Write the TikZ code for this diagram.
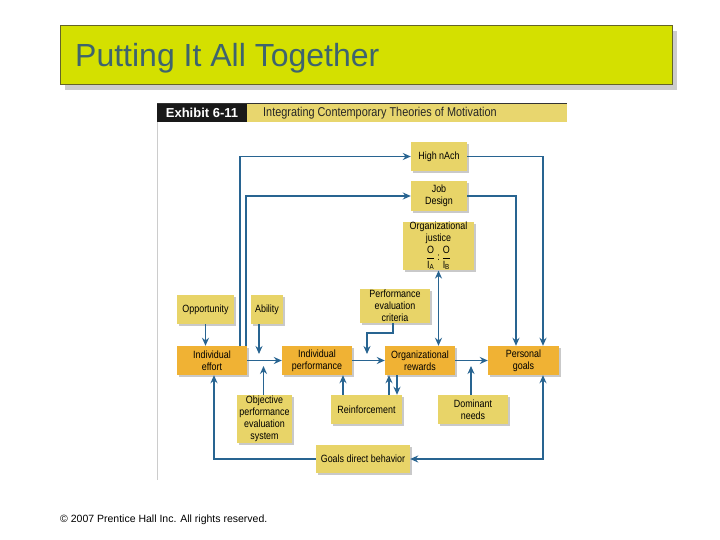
\documentclass[tikz,border=0pt]{standalone}
\usepackage{fontspec}
\usepackage{amsmath}
\setmainfont{Liberation Sans}
\newfontfamily\nodefont[FakeStretch=0.85]{Liberation Sans}
\usetikzlibrary{calc,shadows,arrows.meta}
\definecolor{titlegreen}{RGB}{212,224,0}
\definecolor{titleborder}{RGB}{100,100,40}
\definecolor{titletext}{RGB}{62,100,110}
\definecolor{bandyellow}{RGB}{232,214,110}
\definecolor{boxY}{RGB}{232,212,104}
\definecolor{boxO}{RGB}{240,178,52}
\definecolor{linec}{RGB}{40,100,145}
\begin{document}
\begin{tikzpicture}[x=1pt,y=-1pt,
  box/.style={fill=boxY, inner sep=1pt, align=center,
    font=\nodefont\fontsize{10.5}{12}\selectfont,
    drop shadow={shadow xshift=2pt,shadow yshift=-2pt,fill=black!35,opacity=0.6}},
  obox/.style={box, fill=boxO},
  arr/.style={draw=linec, line width=1.5pt, -{Stealth[length=8pt,width=7pt]}},
  arr2/.style={draw=linec, line width=1.5pt, {Stealth[length=8pt,width=7pt]}-{Stealth[length=8pt,width=7pt]}},
  ln/.style={draw=linec, line width=1.5pt}]
\useasboundingbox (0,0) rectangle (720,540);
\fill[white] (0,0) rectangle (720,540);
% title
\fill[black!20] (65,31) rectangle (677,90);
\draw[fill=titlegreen, draw=titleborder, line width=0.8pt] (60,25) rectangle (672,84);
\node[anchor=base west, inner sep=0pt, text=titletext, font=\fontsize{32}{36}\selectfont] (title) at (75,67) {Putting It All Together};
% exhibit header
\fill[bandyellow] (247,103) rectangle (567,122);
\fill[black!90] (157,103) rectangle (247,122);
\draw[black!80, line width=0.8pt] (157,103) -- (567,103);
\node[text=white, font=\bfseries\fontsize{13}{15}\selectfont, inner sep=0pt] (exh) at (202,113) {Exhibit 6-11};
\node[anchor=base west, text=black!85, font=\nodefont\fontsize{12.8}{14}\selectfont, inner sep=0pt] (exhtitle) at (263,117) {Integrating Contemporary Theories of Motivation};
\draw[black!20, line width=0.8pt] (157,122) -- (157,480);
% nodes
\node[box, minimum width=71pt, minimum height=48pt, inner sep=0.5pt] (just) at (438.5,246) {Organizational\\justice\\[1pt]$\dfrac{\text{O}}{\text{I}_{\text{A}}}\,\text{:}\,\dfrac{\text{O}}{\text{I}_{\text{B}}}$};
\node[box, minimum width=56pt, minimum height=29pt] (nach) at (439,156.5) {High nAch};
\node[box, minimum width=56pt, minimum height=30pt] (job) at (439,196) {Job\\Design};
\node[box, minimum width=70pt, minimum height=34pt] (pec) at (395,306) {Performance\\evaluation\\criteria};
\node[box, minimum width=57pt, minimum height=29pt] (opp) at (205.5,309.5) {Opportunity};
\node[box, minimum width=32pt, minimum height=29pt] (abil) at (267,309.5) {Ability};
\node[obox, minimum width=70pt, minimum height=29pt] (eff) at (212,360.5) {Individual\\effort};
\node[obox, minimum width=70pt, minimum height=29pt] (perf) at (317,360.5) {Individual\\performance};
\node[obox, minimum width=70pt, minimum height=29pt] (rew) at (420,360.5) {Organizational\\rewards};
\node[obox, minimum width=71pt, minimum height=29pt] (pg) at (523.5,360.5) {Personal\\goals};
\node[box, minimum width=55pt, minimum height=48pt] (obj) at (264.5,419) {Objective\\performance\\evaluation\\system};
\node[box, minimum width=71pt, minimum height=29pt] (reinf) at (366.5,409.5) {Reinforcement};
\node[box, minimum width=70pt, minimum height=29pt] (dom) at (473,409.5) {Dominant\\needs};
\node[box, minimum width=94pt, minimum height=28pt] (gdb) at (363,459) {Goals direct behavior};
% coordinates
\coordinate (abilin) at (259,354);
\coordinate (objin) at (263.5,366);
\coordinate (pecin) at (367,354);
\coordinate (domin) at (471,366);
\path ($(reinf.north)+(-23.5,0)$) coordinate (r1)
      ($(reinf.north)+(22.5,0)$) coordinate (r2)
      ($(reinf.north)+(30.5,0)$) coordinate (r3)
      ($(eff.north)+(28,0)$) coordinate (e1)
      ($(eff.north)+(34,0)$) coordinate (e2)
      ($(pg.north)+(19.5,0)$) coordinate (p1)
      ($(pg.north)+(-7.5,0)$) coordinate (p2)
      ($(pg.south)+(19.5,0)$) coordinate (p3)
      ($(eff.south)+(2,0)$) coordinate (e3)
      ($(pec.south)+(-2,0)$) coordinate (pc);
% connectors
\draw[arr] (e1) |- (nach);
\draw[arr] (e2) |- (job);
\draw[arr] (nach) -| (p1);
\draw[arr] (job) -| (p2);
\draw[arr] (opp) -- (opp |- eff.north);
\draw[arr] (eff) -- (perf);
\draw[arr] (abil.south -| abilin) -- (abilin);
\draw[arr] (obj.north -| objin) -- (objin);
\draw[arr] (perf) -- (rew);
\draw[arr] (pc) -- ++(0,10) -| (pecin);
\draw[arr2] (just) -- (just |- rew.north);
\draw[arr] (rew) -- (pg);
\draw[arr] (dom.north -| domin) -- (domin);
\draw[arr] (r1) -- (r1 |- perf.south);
\draw[arr] (r2) -- (r2 |- rew.south);
\draw[arr] (r3 |- rew.south) -- (r3);
\draw[arr2] (gdb) -| (p3);
\draw[arr] (gdb) -| (e3);
% footer
\node[anchor=base west, inner sep=0pt, font=\fontsize{10.5}{12}\selectfont] (copy) at (60,522) {\textcopyright{} 2007 Prentice Hall Inc. All rights reserved.};
\end{tikzpicture}
\end{document}
